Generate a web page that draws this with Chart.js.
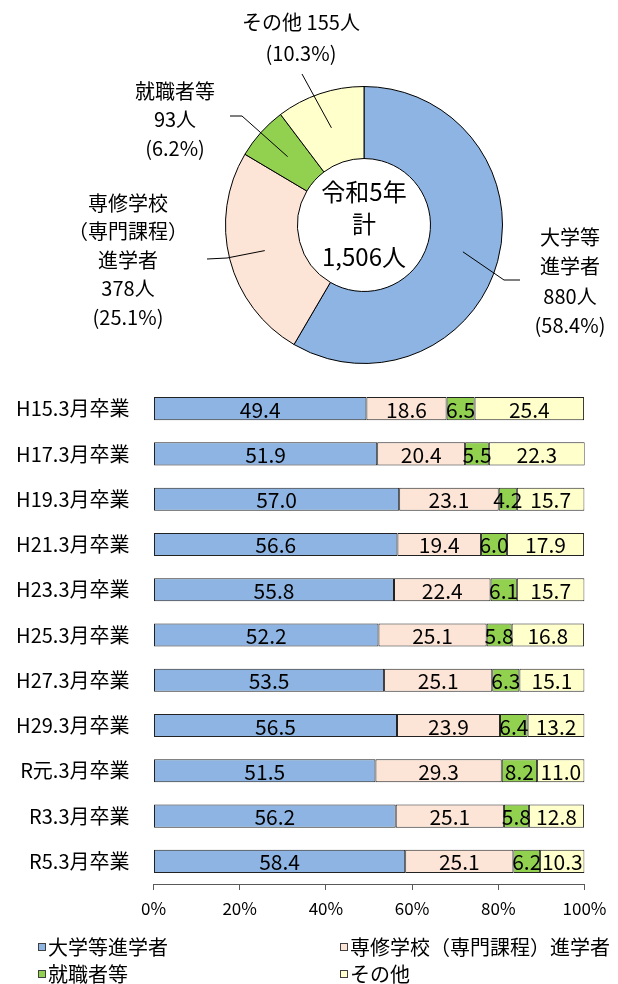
<!DOCTYPE html>
<html><head><meta charset="utf-8">
<script src="https://cdn.jsdelivr.net/npm/chart.js@4.4.0/dist/chart.umd.min.js"></script>
<style>
html,body{margin:0;padding:0;background:#fff;width:618px;height:984px;overflow:hidden}
.box{position:absolute;left:0}
</style></head><body>
<div class="box" style="top:0;width:618px;height:380px"><canvas id="pie" width="618" height="380"></canvas></div>
<div class="box" style="top:380px;width:618px;height:604px"><canvas id="bar" width="618" height="604"></canvas></div>
<script>
// ---- data ----
const pieLabels = ['大学等進学者', '専修学校（専門課程）進学者', '就職者等', 'その他'];
const pieLabelLines = [['大学等', '進学者'], ['専修学校', '（専門課程）', '進学者'], ['就職者等'], ['その他']];
const pieCounts = [880, 378, 93, 155];
const pieCenterTitle = ['令和5年', '計'];

const years = ['H15.3月卒業', 'H17.3月卒業', 'H19.3月卒業', 'H21.3月卒業', 'H23.3月卒業', 'H25.3月卒業', 'H27.3月卒業', 'H29.3月卒業', 'R元.3月卒業', 'R3.3月卒業', 'R5.3月卒業'];
const university = [49.4, 51.9, 57.0, 56.6, 55.8, 52.2, 53.5, 56.5, 51.5, 56.2, 58.4];
const vocational = [18.6, 20.4, 23.1, 19.4, 22.4, 25.1, 25.1, 23.9, 29.3, 25.1, 25.1];
const employed = [6.5, 5.5, 4.2, 6.0, 6.1, 5.8, 6.3, 6.4, 8.2, 5.8, 6.2];
const other = [25.4, 22.3, 15.7, 17.9, 15.7, 16.8, 15.1, 13.2, 11.0, 12.8, 10.3];
const xTickStep = 20;

// ---- styles ----
const colors = ['#8DB4E2', '#FCE4D6', '#92D050', '#FFFFCC'];
const FONT = '"Noto Sans CJK JP", "Noto Sans", sans-serif';

// label layout (positions only)
const pieLabelLayout = [
  { x: 570, y: 237, dy: 29.5, leader: [[504, 280], [520, 280]], inline: false },
  { x: 128, y: 203, dy: 28.5, leader: [[227, 258], [207, 259]], inline: false },
  { x: 175, y: 91, dy: 28.5, leader: [[242, 116], [230, 116]], inline: false },
  { x: 301, y: 22, dy: 31, leader: [[302, 74]], inline: true }
];

const total = pieCounts.reduce((a, b) => a + b, 0);

const pieLabelPlugin = {
  id: 'pieLabels',
  afterDraw(chart) {
    const ctx = chart.ctx;
    const meta = chart.getDatasetMeta(0);
    ctx.save();
    ctx.fillStyle = '#000';
    ctx.strokeStyle = '#000';
    ctx.lineWidth = 1;
    ctx.textAlign = 'center';
    ctx.textBaseline = 'middle';
    meta.data.forEach((arc, i) => {
      const p = arc.getProps(['x', 'y', 'startAngle', 'endAngle', 'innerRadius', 'outerRadius'], true);
      const mid = (p.startAngle + p.endAngle) / 2;
      const r = (p.innerRadius + p.outerRadius) / 2;
      const sx = p.x + Math.cos(mid) * r;
      const sy = p.y + Math.sin(mid) * r;
      const L = pieLabelLayout[i];
      ctx.beginPath();
      ctx.moveTo(sx, sy);
      L.leader.forEach(pt => ctx.lineTo(pt[0], pt[1]));
      ctx.stroke();
      const pct = (pieCounts[i] / total * 100).toFixed(1);
      let lines = pieLabelLines[i].slice();
      if (L.inline) {
        lines[lines.length - 1] += ' ' + pieCounts[i] + '人';
      } else {
        lines.push(pieCounts[i] + '人');
      }
      lines.push('(' + pct + '%)');
      ctx.font = '20px ' + FONT;
      lines.forEach((t, k) => ctx.fillText(t, L.x, L.y + k * L.dy));
    });
    // center text
    const c = meta.data[0];
    const cx = c.x, cy = c.y;
    ctx.font = '24px ' + FONT;
    const centerLines = pieCenterTitle.concat([total.toLocaleString('en-US') + '人']);
    const offs = [-33, -1, 32];
    centerLines.forEach((t, k) => ctx.fillText(t, cx, cy + offs[k]));
    ctx.restore();
  }
};

new Chart(document.getElementById('pie'), {
  type: 'doughnut',
  data: {
    labels: pieLabels,
    datasets: [{
      data: pieCounts,
      backgroundColor: colors,
      borderColor: '#000',
      borderWidth: 1
    }]
  },
  options: {
    responsive: false,
    animation: false,
    events: [],
    cutout: '48%',
    layout: { padding: { left: 225, top: 86, right: 115, bottom: 16 } },
    plugins: { legend: { display: false }, tooltip: { enabled: false } }
  },
  plugins: [pieLabelPlugin]
});

const barValuePlugin = {
  id: 'barValues',
  afterDatasetsDraw(chart) {
    const ctx = chart.ctx;
    ctx.save();
    ctx.font = '21px ' + FONT;
    ctx.fillStyle = '#000';
    ctx.textAlign = 'center';
    ctx.textBaseline = 'middle';
    chart.data.datasets.forEach((ds, i) => {
      const meta = chart.getDatasetMeta(i);
      meta.data.forEach((el, j) => {
        const x = (el.x + el.base) / 2;
        ctx.fillText(ds.data[j].toFixed(1), x, el.y + 1);
      });
    });
    ctx.restore();
  },
  afterDraw(chart) {
    // legend in two columns
    const ctx = chart.ctx;
    const cols = [38, 340];
    const rows = [567, 594];
    ctx.save();
    ctx.font = '20px ' + FONT;
    ctx.textBaseline = 'middle';
    ctx.textAlign = 'left';
    chart.data.datasets.forEach((ds, i) => {
      const bx = cols[i % 2], by = rows[Math.floor(i / 2)];
      ctx.fillStyle = ds.backgroundColor;
      ctx.fillRect(bx, by - 4, 8, 8);
      ctx.strokeStyle = '#404040';
      ctx.lineWidth = 1;
      ctx.strokeRect(bx + 0.5, by - 3.5, 7, 7);
      ctx.fillStyle = '#000';
      ctx.fillText(ds.label, bx + 10, by);
    });
    ctx.restore();
  }
};

new Chart(document.getElementById('bar'), {
  type: 'bar',
  data: {
    labels: years,
    datasets: [
      { label: pieLabels[0], data: university },
      { label: pieLabels[1], data: vocational },
      { label: pieLabels[2], data: employed },
      { label: pieLabels[3], data: other }
    ].map((d, i) => Object.assign(d, {
      backgroundColor: colors[i],
      borderColor: '#222',
      borderWidth: 1,
      borderSkipped: false,
      barPercentage: 0.51,
      categoryPercentage: 1
    }))
  },
  options: {
    indexAxis: 'y',
    responsive: false,
    animation: false,
    events: [],
    layout: { padding: { left: 0, top: 6, right: 33.5, bottom: 0 } },
    scales: {
      x: {
        stacked: true,
        min: 0, max: 100,
        ticks: { stepSize: xTickStep, callback: v => v + '%', color: '#000', font: { family: FONT, size: 17 }, padding: 8, maxRotation: 0 },
        grid: { drawOnChartArea: false, drawTicks: true, tickLength: 6, color: '#595959' },
        border: { display: true, color: '#595959', width: 1 },
        afterFit(s) { s.height = 100; s.paddingLeft = 0; s.paddingRight = 0; }
      },
      y: {
        stacked: true,
        ticks: { color: '#000', font: { family: FONT, size: 20 }, padding: 16 },
        grid: { display: false },
        border: { display: false },
        afterFit(s) { s.width = 153.5; s.paddingTop = 0; s.paddingBottom = 0; }
      }
    },
    plugins: { legend: { display: false }, tooltip: { enabled: false } }
  },
  plugins: [barValuePlugin]
});
</script>
</body></html>
